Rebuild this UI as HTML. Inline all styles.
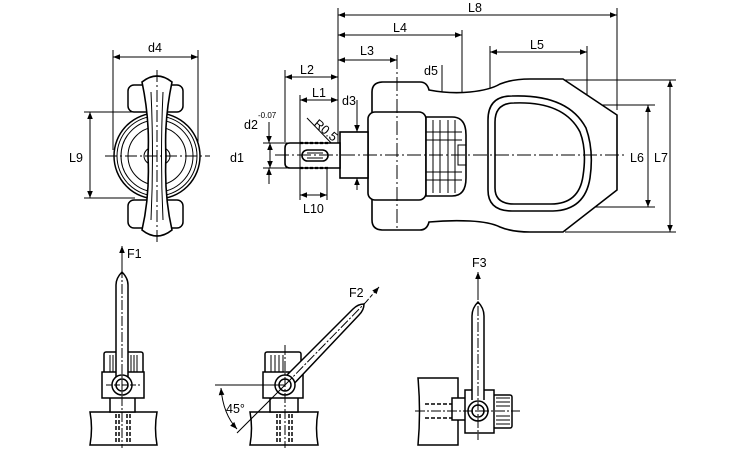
<!DOCTYPE html>
<html><head><meta charset="utf-8"><style>
html,body{margin:0;padding:0;background:#fff}
svg{display:block}
text{font-family:"Liberation Sans",sans-serif;font-size:12.5px;fill:#000}
</style></head><body>
<svg width="750" height="450" viewBox="0 0 750 450" xmlns="http://www.w3.org/2000/svg">
<defs>
<marker id="a" viewBox="0 0 10 10" refX="10" refY="5" markerWidth="9" markerHeight="7" orient="auto-start-reverse" markerUnits="userSpaceOnUse"><path d="M0,1 L10,5 L0,9 z" fill="#000"/></marker>
</defs>
<g fill="none" stroke="#000" stroke-width="1">
<!-- ===== Left end view ===== -->
<line x1="113" y1="50" x2="113" y2="150"/><line x1="198" y1="50" x2="198" y2="150"/>
<line x1="113" y1="57" x2="198" y2="57" marker-start="url(#a)" marker-end="url(#a)"/>
<line x1="84" y1="112" x2="135" y2="112"/><line x1="84" y1="198" x2="135" y2="198"/>
<line x1="90" y1="112" x2="90" y2="198" marker-start="url(#a)" marker-end="url(#a)"/>
<g stroke-width="1.5">
<rect x="128" y="85" width="55" height="27" rx="6"/>
<rect x="128" y="200" width="55" height="28" rx="6"/>
<circle cx="157" cy="156" r="43" fill="#fff"/>
</g>
<circle cx="157" cy="156" r="40"/><circle cx="157" cy="156" r="36"/><circle cx="157" cy="156" r="29"/>
<ellipse cx="157" cy="156" rx="13" ry="10"/>
<path d="M142,82 Q157,70 172,82 Q164,120 166,156 Q164,195 172,230 Q157,242 142,230 Q150,195 148,156 Q150,120 142,82 Z" fill="#fff" stroke-width="1.6"/>
<path d="M151,92 Q154,156 151,220 M163,92 Q160,156 163,220"/>
<line x1="105" y1="156" x2="210" y2="156" stroke-dasharray="12,3,2,3"/>
<line x1="157" y1="70" x2="157" y2="242" stroke-dasharray="12,3,2,3"/>

<!-- ===== Main side view ===== -->
<line x1="338" y1="8" x2="338" y2="150"/>
<line x1="617" y1="8" x2="617" y2="110"/>
<line x1="338" y1="15" x2="617" y2="15" marker-start="url(#a)" marker-end="url(#a)"/>
<line x1="462" y1="30" x2="462" y2="112"/>
<line x1="338" y1="35" x2="462" y2="35" marker-start="url(#a)" marker-end="url(#a)"/>
<line x1="338" y1="60" x2="397" y2="60" marker-start="url(#a)" marker-end="url(#a)"/>
<line x1="490" y1="46" x2="490" y2="120"/><line x1="587" y1="46" x2="587" y2="155"/>
<line x1="490" y1="52" x2="587" y2="52" marker-start="url(#a)" marker-end="url(#a)"/>
<line x1="285" y1="70" x2="285" y2="142"/>
<line x1="285" y1="77" x2="338" y2="77" marker-start="url(#a)" marker-end="url(#a)"/>
<line x1="300" y1="95" x2="300" y2="200"/>
<line x1="300" y1="100" x2="338" y2="100" marker-start="url(#a)" marker-end="url(#a)"/>
<line x1="327" y1="160" x2="327" y2="200"/>
<line x1="300" y1="195" x2="327" y2="195" marker-start="url(#a)" marker-end="url(#a)"/>
<line x1="357" y1="100" x2="357" y2="132" marker-end="url(#a)"/>
<line x1="357" y1="190" x2="357" y2="178" marker-end="url(#a)"/>
<line x1="442" y1="65" x2="442" y2="117"/><line x1="442" y1="195" x2="442" y2="208"/>
<line x1="263" y1="143" x2="305" y2="143"/><line x1="263" y1="168" x2="292" y2="168"/>
<line x1="270" y1="143" x2="270" y2="168" marker-start="url(#a)" marker-end="url(#a)"/>
<line x1="269" y1="122" x2="269" y2="143" marker-end="url(#a)"/>
<line x1="269" y1="184" x2="269" y2="168" marker-end="url(#a)"/>
<line x1="307" y1="118" x2="336" y2="148"/>
<line x1="555" y1="105" x2="655" y2="105"/><line x1="555" y1="207" x2="655" y2="207"/>
<line x1="648" y1="105" x2="648" y2="207" marker-start="url(#a)" marker-end="url(#a)"/>
<line x1="563" y1="80" x2="676" y2="80"/><line x1="565" y1="232" x2="676" y2="232"/>
<line x1="670" y1="80" x2="670" y2="232" marker-start="url(#a)" marker-end="url(#a)"/>
<line x1="500" y1="152" x2="474" y2="152" marker-end="url(#a)"/>

<g stroke-width="1.6">
<path d="M383,82 L420,82 Q427,82 429,90 Q450,94 470,92 Q490,90 500,84 Q512,79 530,79 L563,79 L617,115 L617,190 L563,232 L530,232 Q512,232 500,227 Q490,222 470,221 Q450,220 429,222 Q427,230 420,230 L383,230 Q372,230 372,220 L372,92 Q372,82 383,82 Z" fill="#fff"/>
<path d="M512,96 Q568,94 586,128 Q594,150 590,178 Q585,210 553,211 L512,211 Q488,211 488,190 L488,120 Q488,96 512,96 Z"/>
<path d="M514,103 Q564,101 580,132 Q587,150 583,176 Q579,204 551,204 L514,204 Q495,204 495,188 L495,122 Q495,103 514,103 Z"/>
<rect x="368" y="112" width="58" height="88" rx="7" fill="#fff"/>
<path d="M426,117 L452,117 Q466,117 466,135 L466,178 Q466,196 452,196 L426,196 Z" fill="#fff"/>
<rect x="340" y="132" width="28" height="46" fill="#fff"/>
<path d="M290,143 L340,143 L340,168 L290,168 Q285,168 285,163 L285,148 Q285,143 290,143 Z" fill="#fff"/>
<rect x="302" y="150" width="26" height="11" rx="5.5"/>
</g>
<path d="M433,120 L433,193 M440,120 L440,193 M448,120 L448,193 M455,120 L455,193 M426,132 L462,132 M426,140 L462,140 M426,172 L462,172 M426,180 L462,180"/>
<path d="M458,145 L466,145 L466,165 L458,165 Z"/>
<path d="M300,143 L330,143 M300,168 L330,168" stroke-dasharray="3,2" stroke-width="2.2"/>
<path d="M300,143 L300,168"/>
<path d="M307,153 L323,153 M307,158 L323,158"/>
<line x1="275" y1="155" x2="625" y2="155" stroke-dasharray="14,3,2,3"/>
<line x1="397" y1="55" x2="397" y2="230" stroke-dasharray="14,3,2,3"/>

<!-- ===== Bottom view 1 ===== -->
<line x1="122" y1="270" x2="122" y2="246" marker-end="url(#a)"/>
<g stroke-width="1.5">
<path d="M90,412 L157,412 Q154,428 157,445 L90,445 Q93,428 90,412 Z" fill="#fff"/>
<rect x="110" y="397" width="25" height="15" fill="#fff"/>
<rect x="104" y="352" width="39" height="22" rx="2" fill="#fff"/>
<rect x="102" y="372" width="42" height="26" fill="#fff"/>
<path d="M116,392 L116,285 Q116,278 122,272 Q128,278 128,285 L128,392" fill="#fff"/>
<circle cx="122" cy="385" r="10" fill="#fff"/><circle cx="122" cy="385" r="6"/>
</g>
<path d="M110,355 L110,372 M113,355 L113,372 M131,355 L131,372 M134,355 L134,372 M137,355 L137,372"/>
<path d="M116,414 L116,444 M119,414 L119,444 M127,414 L127,444 M130,414 L130,444" stroke-dasharray="4,2" stroke-width="1.5"/>
<line x1="122" y1="268" x2="122" y2="448" stroke-dasharray="10,2,2,2"/>
<line x1="106" y1="385" x2="140" y2="385" stroke-dasharray="6,2"/>

<!-- ===== Bottom view 2 ===== -->
<g stroke-width="1.5">
<path d="M250,412 L318,412 Q315,428 318,445 L250,445 Q253,428 250,412 Z" fill="#fff"/>
<rect x="270" y="397" width="28" height="15" fill="#fff"/>
<rect x="265" y="352" width="36" height="22" rx="2" fill="#fff"/>
<rect x="263" y="372" width="40" height="26" fill="#fff"/>
<path d="M281,381 L353,309 Q358,304 364,304 Q364,310 359,315 L289,389" fill="#fff"/>
<circle cx="285" cy="385" r="10" fill="#fff"/><circle cx="285" cy="385" r="6"/>
</g>
<path d="M271,355 L271,372 M275,355 L275,372 M279,355 L279,372 M283,355 L283,372"/>
<path d="M277,414 L277,444 M280,414 L280,444 M289,414 L289,444 M292,414 L292,444" stroke-dasharray="4,2" stroke-width="1.5"/>
<line x1="285" y1="345" x2="285" y2="448" stroke-dasharray="10,2,2,2"/>
<line x1="285" y1="385" x2="366" y2="302" stroke-dasharray="10,2,2,2"/>
<line x1="366" y1="302" x2="379" y2="287" stroke-dasharray="4,2" marker-end="url(#a)"/>
<line x1="215" y1="385" x2="285" y2="385"/>
<line x1="285" y1="385" x2="237" y2="433"/>
<path d="M221,388 Q223,414 237,429" marker-start="url(#a)" marker-end="url(#a)"/>

<!-- ===== Bottom view 3 ===== -->
<line x1="478" y1="296" x2="478" y2="272" marker-end="url(#a)"/>
<g stroke-width="1.5">
<path d="M418,378 L458,378 L458,445 L418,445 Q421,412 418,378 Z" fill="#fff"/>
<rect x="452" y="398" width="14" height="22" fill="#fff"/>
<rect x="493" y="395" width="19" height="33" rx="2" fill="#fff"/>
<rect x="465" y="390" width="29" height="43" fill="#fff"/>
<path d="M472,400 L472,316 Q472,308 478,302 Q484,308 484,316 L484,400" fill="#fff"/>
<circle cx="478" cy="411" r="10" fill="#fff"/><circle cx="478" cy="411" r="6"/>
</g>
<path d="M496,398 L510,398 M496,402 L510,402 M496,406 L510,406 M496,416 L510,416 M496,420 L510,420 M496,424 L510,424"/>
<path d="M425,404 L452,404 M425,418 L452,418" stroke-dasharray="4,2" stroke-width="1.5"/>
<line x1="478" y1="290" x2="478" y2="440" stroke-dasharray="10,2,2,2"/>
<line x1="415" y1="411" x2="520" y2="411" stroke-dasharray="10,2,2,2"/>
</g>

<!-- labels -->
<text x="148" y="52">d4</text>
<text x="69" y="162">L9</text>
<text x="468" y="12">L8</text>
<text x="393" y="32">L4</text>
<text x="360" y="55">L3</text>
<text x="530" y="49">L5</text>
<text x="300" y="74">L2</text>
<text x="312" y="97">L1</text>
<text x="342" y="105">d3</text>
<text x="424" y="75">d5</text>
<text x="244" y="129">d2</text>
<text x="258" y="118" style="font-size:8px">-0.07</text>
<text x="230" y="162">d1</text>
<text x="303" y="213">L10</text>
<text x="630" y="162">L6</text>
<text x="654" y="162">L7</text>
<text x="313" y="125" transform="rotate(40 313 125)">R0.5</text>
<text x="127" y="258">F1</text>
<text x="349" y="297">F2</text>
<text x="472" y="267">F3</text>
<text x="226" y="413">45°</text>
</svg>
</body></html>
